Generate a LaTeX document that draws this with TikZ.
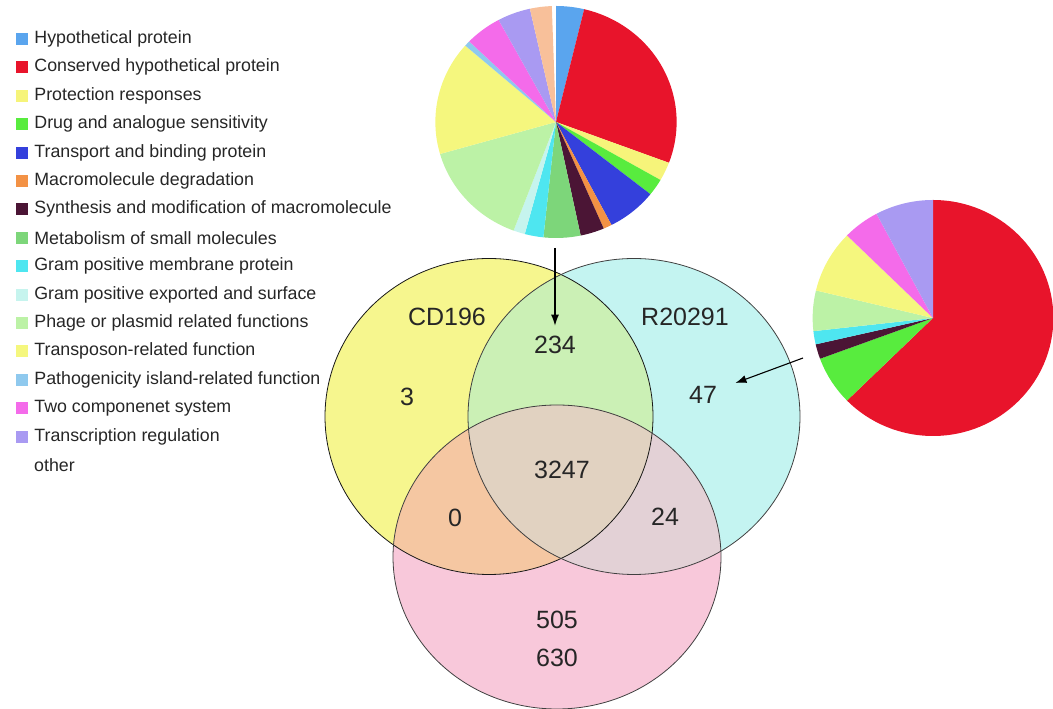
\documentclass[tikz,border=0pt]{standalone}
\usepackage{fontspec}
\setmainfont{Liberation Sans}
\usetikzlibrary{positioning,arrows.meta}

\definecolor{hipo}{HTML}{5AA5EE}
\definecolor{conserv}{HTML}{E8142B}
\definecolor{protec}{HTML}{F6F47A}
\definecolor{droga}{HTML}{58EC3E}
\definecolor{transp}{HTML}{3440DC}
\definecolor{degrad}{HTML}{F39245}
\definecolor{sintes}{HTML}{4B1535}
\definecolor{metab}{HTML}{7DD67A}
\definecolor{grammem}{HTML}{4EE6F0}
\definecolor{gramexp}{HTML}{C6F4EE}
\definecolor{fago}{HTML}{BCF2A6}
\definecolor{transpos}{HTML}{F5F77E}
\definecolor{patog}{HTML}{8FC9EE}
\definecolor{doscomp}{HTML}{F46BEA}
\definecolor{regul}{HTML}{A99AF2}
\definecolor{durazno}{HTML}{F8C09A}
\definecolor{vamar}{HTML}{F6F68E}
\definecolor{vcian}{HTML}{C4F4F1}
\definecolor{vrosa}{HTML}{F8C8DA}
\definecolor{vverde}{HTML}{CBF0B5}
\definecolor{vnaranja}{HTML}{F5C7A2}
\definecolor{vmalva}{HTML}{E3D1D6}
\definecolor{vcentro}{HTML}{E1D2C1}

\begin{document}
\begin{tikzpicture}[x=1pt,y=1pt,
		leyenda/.style={font=\fontsize{17.8}{20}\selectfont, text=black!85, inner sep=0pt, anchor=west},
		cuadro/.style={minimum size=12pt, inner sep=0pt},
		num/.style={font=\fontsize{25}{28}\selectfont, text=black!85},
		flecha/.style={-{Latex[length=11pt,width=8pt]}, line width=1.1pt},
		borde/.style={draw=black!75, line width=0.8pt}]
		\useasboundingbox (0,0) rectangle (1053,709);
		%%%% LEYENDA
		\node[cuadro, fill=hipo] (sq1) at (22,670) {};
		\node[leyenda, right=6pt of sq1] (l1) {Hypothetical protein};
		\node[cuadro, fill=conserv] (sq2) at (22,641.6) {};
		\node[leyenda, right=6pt of sq2] (l2) {Conserved hypothetical protein};
		\node[cuadro, fill=protec] (sq3) at (22,613.2) {};
		\node[leyenda, right=6pt of sq3] (l3) {Protection responses};
		\node[cuadro, fill=droga] (sq4) at (22,584.8) {};
		\node[leyenda, right=6pt of sq4] (l4) {Drug and analogue sensitivity};
		\node[cuadro, fill=transp] (sq5) at (22,556.4) {};
		\node[leyenda, right=6pt of sq5] (l5) {Transport and binding protein};
		\node[cuadro, fill=degrad] (sq6) at (22,528) {};
		\node[leyenda, right=6pt of sq6] (l6) {Macromolecule degradation};
		\node[cuadro, fill=sintes] (sq7) at (22,499.6) {};
		\node[leyenda, right=6pt of sq7] (l7) {Synthesis and modification of macromolecule};
		\node[cuadro, fill=metab] (sq8) at (22,471.2) {};
		\node[leyenda, right=6pt of sq8] (l8) {Metabolism of small molecules};
		\node[cuadro, fill=grammem] (sq9) at (22,442.8) {};
		\node[leyenda, right=6pt of sq9] (l9) {Gram positive membrane protein};
		\node[cuadro, fill=gramexp] (sq10) at (22,414.4) {};
		\node[leyenda, right=6pt of sq10] (l10) {Gram positive exported and surface};
		\node[cuadro, fill=fago] (sq11) at (22,386) {};
		\node[leyenda, right=6pt of sq11] (l11) {Phage or plasmid related functions};
		\node[cuadro, fill=transpos] (sq12) at (22,357.6) {};
		\node[leyenda, right=6pt of sq12] (l12) {Transposon-related function};
		\node[cuadro, fill=patog] (sq13) at (22,329.2) {};
		\node[leyenda, right=6pt of sq13] (l13) {Pathogenicity island-related function};
		\node[cuadro, fill=doscomp] (sq14) at (22,300.8) {};
		\node[leyenda, right=6pt of sq14] (l14) {Two componenet system};
		\node[cuadro, fill=regul] (sq15) at (22,272.4) {};
		\node[leyenda, right=6pt of sq15] (l15) {Transcription regulation};
		\node[leyenda] at (34,244) (l16) {other};
		%%%% PASTEL ARRIBA
		\begin{scope}[shift={(556,587)}, xscale=1.04]
		\fill[hipo] (0,0) -- (90:116) arc[start angle=90, end angle=76.5, radius=116] -- cycle;
		\fill[conserv] (0,0) -- (76.5:116) arc[start angle=76.5, end angle=-20.6, radius=116] -- cycle;
		\fill[protec] (0,0) -- (-20.6:116) arc[start angle=-20.6, end angle=-30, radius=116] -- cycle;
		\fill[droga] (0,0) -- (-30:116) arc[start angle=-30, end angle=-38.5, radius=116] -- cycle;
		\fill[transp] (0,0) -- (-38.5:116) arc[start angle=-38.5, end angle=-62.6, radius=116] -- cycle;
		\fill[degrad] (0,0) -- (-62.6:116) arc[start angle=-62.6, end angle=-66.7, radius=116] -- cycle;
		\fill[sintes] (0,0) -- (-66.7:116) arc[start angle=-66.7, end angle=-78.2, radius=116] -- cycle;
		\fill[metab] (0,0) -- (-78.2:116) arc[start angle=-78.2, end angle=-96, radius=116] -- cycle;
		\fill[grammem] (0,0) -- (-96:116) arc[start angle=-96, end angle=-105, radius=116] -- cycle;
		\fill[gramexp] (0,0) -- (-105:116) arc[start angle=-105, end angle=-110.6, radius=116] -- cycle;
		\fill[fago] (0,0) -- (-110.6:116) arc[start angle=-110.6, end angle=-164, radius=116] -- cycle;
		\fill[transpos] (0,0) -- (-164:116) arc[start angle=-164, end angle=-221.2, radius=116] -- cycle;
		\fill[patog] (0,0) -- (-221.2:116) arc[start angle=-221.2, end angle=-224, radius=116] -- cycle;
		\fill[doscomp] (0,0) -- (-224:116) arc[start angle=-224, end angle=-241.6, radius=116] -- cycle;
		\fill[regul] (0,0) -- (-241.6:116) arc[start angle=-241.6, end angle=-257.5, radius=116] -- cycle;
		\fill[durazno] (0,0) -- (-257.5:116) arc[start angle=-257.5, end angle=-268, radius=116] -- cycle;
		\end{scope}
		%%%% PASTEL DERECHA
		\begin{scope}[shift={(933,391)}, xscale=1.02]
		\fill[conserv] (0,0) -- (90:118) arc[start angle=90, end angle=-135.6, radius=118] -- cycle;
		\fill[droga] (0,0) -- (-135.6:118) arc[start angle=-135.6, end angle=-159.8, radius=118] -- cycle;
		\fill[sintes] (0,0) -- (-159.8:118) arc[start angle=-159.8, end angle=-167.1, radius=118] -- cycle;
		\fill[grammem] (0,0) -- (-167.1:118) arc[start angle=-167.1, end angle=-173.6, radius=118] -- cycle;
		\fill[fago] (0,0) -- (-173.6:118) arc[start angle=-173.6, end angle=-193.5, radius=118] -- cycle;
		\fill[transpos] (0,0) -- (-193.5:118) arc[start angle=-193.5, end angle=-224.4, radius=118] -- cycle;
		\fill[doscomp] (0,0) -- (-224.4:118) arc[start angle=-224.4, end angle=-242, radius=118] -- cycle;
		\fill[regul] (0,0) -- (-242:118) arc[start angle=-242, end angle=-270, radius=118] -- cycle;
		\end{scope}
		%%%% VENN
		\coordinate (cizq) at (489,292.5);
		\coordinate (cder) at (634,292.5);
		\coordinate (cinf) at (557,152);
		\fill[vamar] (cizq) ellipse[x radius=164, y radius=158];
		\fill[vcian] (cder) ellipse[x radius=166, y radius=158];
		\fill[vrosa] (cinf) ellipse[x radius=164, y radius=152];
		\begin{scope}
		\clip (cder) ellipse[x radius=166, y radius=158];
		\fill[vmalva] (cinf) ellipse[x radius=164, y radius=152];
		\end{scope}
		\begin{scope}
		\clip (cizq) ellipse[x radius=164, y radius=158];
		\fill[vverde] (cder) ellipse[x radius=166, y radius=158];
		\fill[vnaranja] (cinf) ellipse[x radius=164, y radius=152];
		\clip (cder) ellipse[x radius=166, y radius=158];
		\fill[vcentro] (cinf) ellipse[x radius=164, y radius=152];
		\end{scope}
		\draw[borde, draw=black!90] (cizq) ellipse[x radius=164, y radius=158];
		\draw[borde] (cder) ellipse[x radius=166, y radius=158];
		\draw[borde] (cinf) ellipse[x radius=164, y radius=152];
		%numeros
		\node[num] at (447,392) (cd) {CD196};
		\node[num] at (685,392) (rr) {R20291};
		\node[num] at (555,364) (n234) {234};
		\node[num] at (407,312) (n3) {3};
		\node[num] at (703,314) (n47) {47};
		\node[num] at (562,239) (n3247) {3247};
		\node[num] at (455,191) (n0) {0};
		\node[num] at (665,192) (n24) {24};
		\node[num] at (557,89) (n505) {505};
		\node[num] at (557,51) (n630) {630};
		%%%% FLECHAS
		\coordinate (pieabajo) at (555,461);
		\coordinate (pieder) at (803,351);
		\draw[flecha] (pieabajo) -- ([yshift=7pt]n234.north);
		\draw[flecha, shorten >=16pt] (pieder) -- (n47);
\end{tikzpicture}
\end{document}
